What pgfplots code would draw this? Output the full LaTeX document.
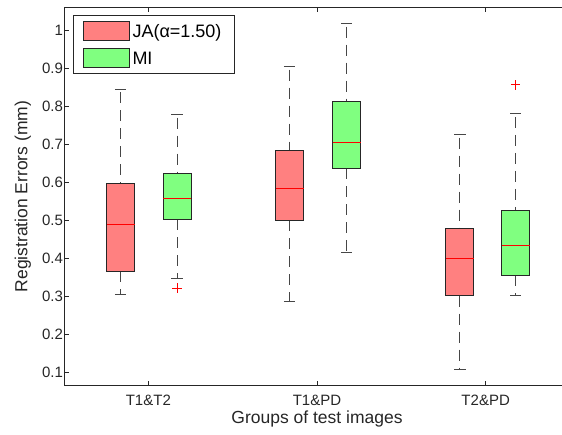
\documentclass[border=0pt]{standalone}
\usepackage{fontspec}
\setmainfont{Liberation Sans}
\usepackage{pgfplots}
\pgfplotsset{compat=1.18}
\usepgfplotslibrary{statistics}
\definecolor{jafill}{RGB}{255,128,128}
\definecolor{mifill}{RGB}{128,255,128}
\definecolor{wcol}{RGB}{70,70,70}
\pgfplotsset{
  boxplot/draw direction=y,
  boxplot/box extend=0.166,
  boxplot/whisker extend=0.067,
  boxplot/every median/.style={red, line width=0.8pt},
  boxplot/every whisker/.style={wcol, line width=0.75pt},
  boxplot/draw/lower whisker/.code={%
    \draw[/pgfplots/boxplot/every whisker, dash pattern=on 11pt off 7pt]
      (boxplot box cs:\pgfplotsboxplotvalue{lower quartile},0.5) --
      (boxplot box cs:\pgfplotsboxplotvalue{lower whisker},0.5);
    \draw[/pgfplots/boxplot/every whisker]
      (boxplot whisker cs:\pgfplotsboxplotvalue{lower whisker},0) --
      (boxplot whisker cs:\pgfplotsboxplotvalue{lower whisker},1);
  },
  boxplot/draw/upper whisker/.code={%
    \draw[/pgfplots/boxplot/every whisker, dash pattern=on 11pt off 7pt, dash phase=-3pt]
      (boxplot box cs:\pgfplotsboxplotvalue{upper whisker},0.5) --
      (boxplot box cs:\pgfplotsboxplotvalue{upper quartile},0.5);
    \draw[/pgfplots/boxplot/every whisker]
      (boxplot whisker cs:\pgfplotsboxplotvalue{upper whisker},0) --
      (boxplot whisker cs:\pgfplotsboxplotvalue{upper whisker},1);
  },
  jabox/.style={forget plot, color=red, line width=0.9pt,
    boxplot/every box/.style={fill=jafill, draw=black!85, line width=0.9pt},
    mark=+, mark size=4.8pt, mark options={solid, color=red, draw=red, line width=0.8pt}},
  mibox/.style={forget plot, color=red, line width=0.9pt,
    boxplot/every box/.style={fill=mifill, draw=black!85, line width=0.9pt},
    mark=+, mark size=4.8pt, mark options={solid, color=red, draw=red, line width=0.8pt}},
}
\begin{document}
\begin{tikzpicture}
\begin{axis}[
  scale only axis, width=506pt, height=378.4pt,
  xmin=0.5, xmax=3.5, ymin=0.065, ymax=1.06,
  xtick={1,2,3}, xticklabels={T1\&T2,T1\&PD,T2\&PD},
  ytick={0.1,0.2,0.3,0.4,0.5,0.6,0.7,0.8,0.9,1},
  yticklabels={0.1,0.2,0.3,0.4,0.5,0.6,0.7,0.8,0.9,1},
  /pgf/number format/assume math mode=true,
  tick align=inside, major tick length=5pt, minor tick num=0,
  axis line style={black!85, line width=0.8pt},
  every tick/.style={black!85, line width=0.8pt},
  tick label style={font=\fontsize{15}{17}\selectfont, text=black!85},
  xticklabel style={anchor=base, yshift=-20pt},
  yticklabel style={anchor=east, inner sep=0pt, xshift=-0.8pt},
  label style={font=\fontsize{17.5}{20}\selectfont, text=black!85},
  xlabel={Groups of test images},
  ylabel={Registration Errors (mm)},
  xlabel style={at={(rel axis cs:0.5,-0.1012)}, anchor=base},
  ylabel style={at={(rel axis cs:-0.0725,0.5)}, anchor=base},
  legend image code/.code={\draw[#1] (0pt,-9.5pt) rectangle (46pt,9.5pt);},
  legend cell align=left,
  legend style={at={(rel axis cs:0.0172,0.9797)}, anchor=north west,
    draw=black!85, line width=0.8pt, font=\fontsize{18}{20}\selectfont,
    inner xsep=9.5pt, inner ysep=6pt, row sep=6.7pt,
    nodes={inner xsep=3pt, inner ysep=0pt, text height=13pt, text depth=0pt}},
]
\coordinate (O) at (rel axis cs:0,0);
\addlegendimage{fill=jafill, draw=black!85, line width=0.9pt}
\addlegendentry{JA(α=1.50)}
\addlegendimage{fill=mifill, draw=black!85, line width=0.9pt}
\addlegendentry{MI}

% T1&T2
\addplot[jabox, boxplot prepared={draw position=0.835,
  lower whisker=0.304, lower quartile=0.366, median=0.488,
  upper quartile=0.598, upper whisker=0.845}] coordinates {};
\addplot[mibox, boxplot prepared={draw position=1.170,
  lower whisker=0.347, lower quartile=0.503, median=0.558,
  upper quartile=0.622, upper whisker=0.778}]
  table[row sep=\\, y index=0] {data\\ 0.322\\};
% T1&PD
\addplot[jabox, boxplot prepared={draw position=1.837,
  lower whisker=0.286, lower quartile=0.500, median=0.583,
  upper quartile=0.683, upper whisker=0.904}] coordinates {};
\addplot[mibox, boxplot prepared={draw position=2.176,
  lower whisker=0.415, lower quartile=0.637, median=0.705,
  upper quartile=0.812, upper whisker=1.017}] coordinates {};
% T2&PD
\addplot[jabox, boxplot prepared={draw position=2.847,
  lower whisker=0.108, lower quartile=0.302, median=0.400,
  upper quartile=0.478, upper whisker=0.725}] coordinates {};
\addplot[mibox, boxplot prepared={draw position=3.178,
  lower whisker=0.302, lower quartile=0.356, median=0.433,
  upper quartile=0.527, upper whisker=0.780}]
  table[row sep=\\, y index=0] {data\\ 0.856\\};
\end{axis}
\pgfresetboundingbox
\useasboundingbox ([xshift=-64pt,yshift=-48.3pt]O) rectangle ([xshift=498pt,yshift=385.7pt]O);
\end{tikzpicture}
\end{document}
